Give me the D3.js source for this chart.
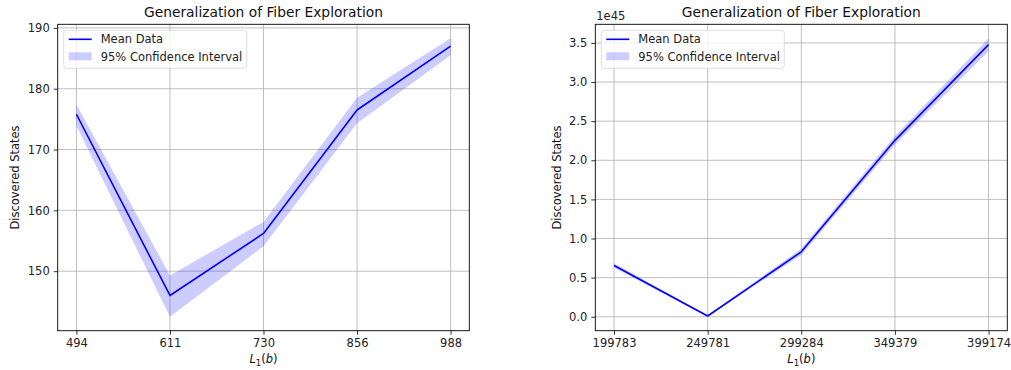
<!DOCTYPE html>
<html>
<head>
<meta charset="utf-8">
<script src="https://cdn.jsdelivr.net/npm/d3@7"></script>
<style>
  body { margin: 0; background: #fff; }
  svg { display: block; font-family: "DejaVu Sans", sans-serif; }
</style>
</head>
<body>
<svg id="chart" width="1011" height="370"></svg>
<script>
// ---- Data ----
const chartTitle = "Generalization of Fiber Exploration";
const yLabel = "Discovered States";

const leftCategories = ["494", "611", "730", "856", "988"];
const leftMean  = [175.8, 146.0, 156.2, 176.5, 187.0];
const leftLower = [173.9, 142.5, 154.1, 174.3, 185.5];
const leftUpper = [177.4, 149.3, 158.1, 178.5, 188.3];
const leftYTicks = [150, 160, 170, 180, 190];

const rightCategories = ["199783", "249781", "299284", "349379", "399174"];
const rightMean  = [0.655e45, 0.010e45, 0.830e45, 2.255e45, 3.478e45];
const rightLower = [0.625e45, 0.000e45, 0.790e45, 2.200e45, 3.395e45];
const rightUpper = [0.685e45, 0.020e45, 0.870e45, 2.310e45, 3.560e45];
const rightYTicks = [0, 0.5e45, 1.0e45, 1.5e45, 2.0e45, 2.5e45, 3.0e45, 3.5e45];

const legendLabels = ["Mean Data", "95% Confidence Interval"];

const svg = d3.select("#chart");

function drawPanel(opts) {
  const { x0, x1, y0, y1, cats, mean, lower, upper, yTicks, fmt, offsetText } = opts;
  const g = svg.append("g");

  const x = d3.scaleLinear().domain([-0.2, cats.length - 1 + 0.2]).range([x0, x1]);
  const lo = d3.min(lower), hi = d3.max(upper);
  const m = (hi - lo) * 0.05;
  const y = d3.scaleLinear().domain([lo - m, hi + m]).range([y1, y0]);

  // grid
  const grid = g.append("g");
  cats.forEach((c, i) => {
    grid.append("line").attr("x1", x(i)).attr("x2", x(i)).attr("y1", y0).attr("y2", y1)
      .attr("stroke", "#b0b0b0").attr("stroke-width", 0.8);
  });
  yTicks.forEach(t => {
    grid.append("line").attr("x1", x0).attr("x2", x1).attr("y1", y(t)).attr("y2", y(t))
      .attr("stroke", "#b0b0b0").attr("stroke-width", 0.8);
  });

  // band
  const idx = d3.range(cats.length);
  g.append("path").datum(idx)
    .attr("d", d3.area().x(i => x(i)).y0(i => y(lower[i])).y1(i => y(upper[i])))
    .attr("fill", "blue").attr("fill-opacity", 0.2).attr("stroke", "none");

  // line
  g.append("path").datum(idx)
    .attr("d", d3.line().x(i => x(i)).y(i => y(mean[i])))
    .attr("fill", "none").attr("stroke", "blue").attr("stroke-width", 1.6)
    .attr("stroke-linejoin", "round");

  // axes
  const xAxis = d3.axisBottom(x).tickValues(idx).tickFormat(i => cats[i]).tickSize(4).tickPadding(4);
  const gx = g.append("g").attr("transform", `translate(0,${y1})`).call(xAxis);
  const yAxis = d3.axisLeft(y).tickValues(yTicks).tickFormat(fmt).tickSize(4).tickPadding(4);
  const gy = g.append("g").attr("transform", `translate(${x0},0)`).call(yAxis);
  [gx, gy].forEach(a => {
    a.select(".domain").remove();
    a.selectAll(".tick line").attr("stroke", "#000").attr("stroke-width", 0.8);
    a.selectAll(".tick text").attr("fill", "#222").style("font-size", "11.5px")
      .style("font-family", "DejaVu Sans, sans-serif");
  });

  // spines
  g.append("rect").attr("x", x0).attr("y", y0).attr("width", x1 - x0).attr("height", y1 - y0)
    .attr("fill", "none").attr("stroke", "#000").attr("stroke-width", 0.9);

  // title
  g.append("text").attr("x", (x0 + x1) / 2).attr("y", 17).attr("text-anchor", "middle")
    .style("font-size", "13.8px").attr("fill", "#111").text(chartTitle);

  // offset text
  if (offsetText) {
    g.append("text").attr("x", x0 + 1).attr("y", 20).style("font-size", "11.5px")
      .attr("fill", "#222").text(offsetText);
  }

  // y label
  g.append("text").attr("transform", `translate(${opts.yLabelX},${(y0 + y1) / 2}) rotate(-90)`)
    .attr("text-anchor", "middle").style("font-size", "11.5px").attr("fill", "#111").text(yLabel);

  // x label L_1(b)
  const xl = g.append("text").attr("x", (x0 + x1) / 2).attr("y", 363).attr("text-anchor", "middle")
    .style("font-size", "11.5px").attr("fill", "#111");
  xl.append("tspan").style("font-style", "italic").text("L");
  xl.append("tspan").attr("dy", 3).style("font-size", "8.5px").text("1");
  xl.append("tspan").attr("dy", -3).text("(");
  xl.append("tspan").style("font-style", "italic").text("b");
  xl.append("tspan").text(")");

  // legend
  const lx = x0 + 6, ly = y0 + 6;
  const lg = g.append("g");
  lg.append("rect").attr("x", lx).attr("y", ly).attr("width", opts.legendW).attr("height", 38)
    .attr("rx", 3).attr("fill", "#fff").attr("fill-opacity", 0.8)
    .attr("stroke", "#d5d5d5").attr("stroke-width", 0.8);
  lg.append("line").attr("x1", lx + 5).attr("x2", lx + 28).attr("y1", ly + 9).attr("y2", ly + 9)
    .attr("stroke", "blue").attr("stroke-width", 1.6);
  lg.append("rect").attr("x", lx + 5).attr("y", ly + 22).attr("width", 23).attr("height", 8)
    .attr("fill", "blue").attr("fill-opacity", 0.2);
  lg.append("text").attr("x", lx + 37).attr("y", ly + 13).style("font-size", "11.5px")
    .attr("fill", "#222").text(legendLabels[0]);
  lg.append("text").attr("x", lx + 37).attr("y", ly + 30.5).style("font-size", "11.5px")
    .attr("fill", "#222").text(legendLabels[1]);
}

drawPanel({
  x0: 57.7, x1: 469.3, y0: 24.3, y1: 330.7,
  cats: leftCategories, mean: leftMean, lower: leftLower, upper: leftUpper,
  yTicks: leftYTicks, fmt: d => d3.format("d")(d), offsetText: null,
  yLabelX: 19, legendW: 183
});

drawPanel({
  x0: 595.3, x1: 1007.3, y0: 24.3, y1: 330.7,
  cats: rightCategories, mean: rightMean, lower: rightLower, upper: rightUpper,
  yTicks: rightYTicks, fmt: d => d3.format(".1f")(d / 1e45), offsetText: "1e45",
  yLabelX: 561, legendW: 183
});
</script>
</body>
</html>
